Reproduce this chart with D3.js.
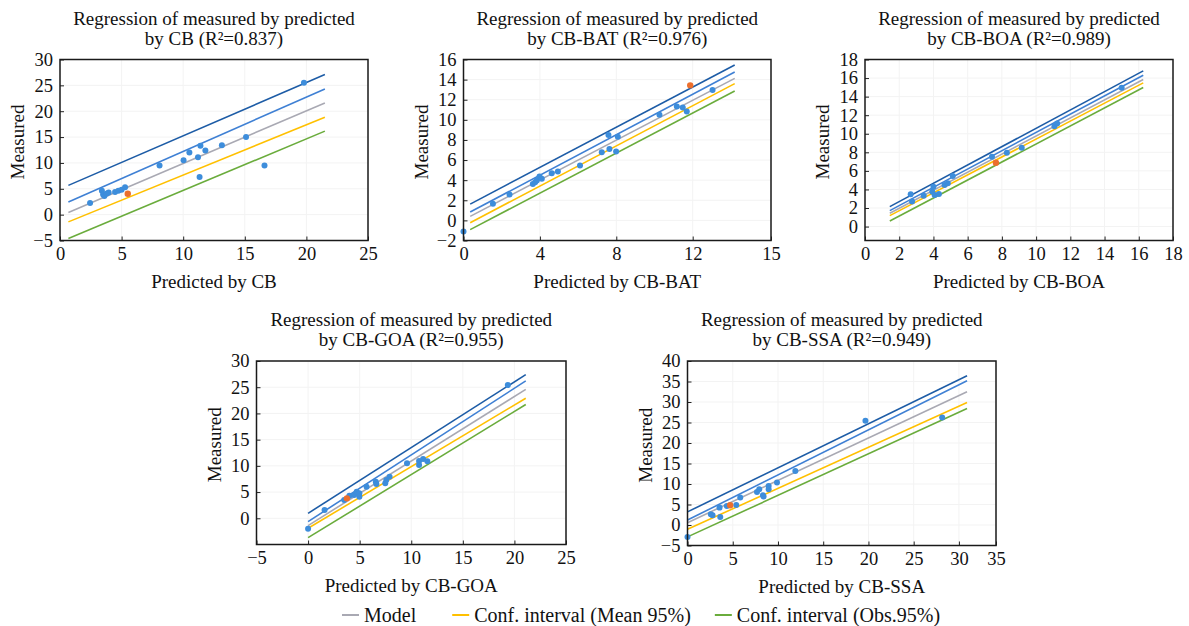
<!DOCTYPE html>
<html>
<head>
<meta charset="utf-8">
<script src="https://cdn.jsdelivr.net/npm/d3@7"></script>
<style>
  body { margin: 0; background: #fff; }
  svg, svg text { font-family: "Liberation Serif", Tinos, "Times New Roman", "DejaVu Serif", serif !important; fill: #111; }
</style>
</head>
<body>
<script>
// model names and fit quality
var modelNames = ["CB", "CB-BAT", "CB-BOA", "CB-GOA", "CB-SSA"];
var rSquared = ["0.837", "0.976", "0.989", "0.955", "0.949"];

// axis domains and ticks (the chart puts its last x label at the frame edge)
var xDomains = [[0, 25], [0, 16.1], [0, 18], [-5, 25], [0, 34.1]];
var yDomains = [[-5, 30], [-2, 16], [-1.5, 18], [-5, 30], [-5, 40]];
var xTickValues = [[0, 5, 10, 15, 20, 25], [0, 4, 8, 12, 16.1], [0, 2, 4, 6, 8, 10, 12, 14, 16, 18], [-5, 0, 5, 10, 15, 20, 25], [0, 5, 10, 15, 20, 25, 30, 34.1]];
var xTickLabels = [["0", "5", "10", "15", "20", "25"], ["0", "4", "8", "12", "15"], ["0", "2", "4", "6", "8", "10", "12", "14", "16", "18"], ["\u22125", "0", "5", "10", "15", "20", "25"], ["0", "5", "10", "15", "20", "25", "30", "35"]];
var yTickValues = [[-5, 0, 5, 10, 15, 20, 25, 30], [-2, 0, 2, 4, 6, 8, 10, 12, 14, 16], [0, 2, 4, 6, 8, 10, 12, 14, 16, 18], [0, 5, 10, 15, 20, 25, 30], [-5, 0, 5, 10, 15, 20, 25, 30, 35, 40]];

// regression lines: x range and [start, end] values of each band
var lineX = [[0.68, 21.5], [0.35, 14.2], [1.45, 16.26], [0, 21.1], [0, 30.9]];
var upperObs = [[5.66, 27.1], [1.62, 15.45], [2.15, 16.77], [0.95, 27.4], [3.2, 36.4]];
var upperMean = [[2.45, 24.3], [0.83, 14.75], [1.72, 16.31], [-0.63, 26.2], [1.2, 35.2]];
var modelLine = [[0.4, 21.6], [0.4, 14.12], [1.43, 15.84], [-1.4, 24.6], [0.57, 32.5]];
var lowerMean = [[-1.4, 18.85], [-0.23, 13.6], [1.18, 15.48], [-1.9, 22.9], [-1.06, 29.9]];
var lowerObs = [[-4.6, 16.15], [-0.92, 12.87], [0.6, 14.98], [-3.7, 21.7], [-2.9, 28.4]];

// observations [predicted, measured]
var cbPoints = [[2.44, 2.25], [3.4, 4.6], [3.5, 3.9], [3.6, 3.6], [3.8, 4.1], [3.95, 4.3], [4.47, 4.4], [4.74, 4.6], [5.0, 4.8], [5.28, 5.3],
  [8.08, 9.5], [10.03, 10.5], [10.5, 12.0], [11.2, 11.1], [11.33, 7.27], [11.4, 13.3], [11.8, 12.4], [13.14, 13.4], [15.1, 15.0], [16.6, 9.5], [19.8, 25.5]];
var batPoints = [[0, -1.1], [1.54, 1.65], [2.41, 2.57], [3.63, 3.63], [3.75, 3.8], [3.84, 3.96], [3.98, 4.36], [4.1, 4.13], [4.62, 4.69], [4.94, 4.85],
  [6.1, 5.45], [7.24, 6.77], [7.59, 8.48], [7.64, 7.1], [7.99, 6.86], [8.08, 8.32], [10.26, 10.5], [11.17, 11.32], [11.48, 11.22], [11.69, 10.82], [13.04, 12.97]];
var boaPoints = [[2.67, 3.48], [2.75, 2.69], [3.43, 3.33], [3.93, 3.76], [4.0, 4.3], [4.07, 3.4], [4.32, 3.5], [4.65, 4.48], [4.84, 4.66], [5.13, 5.45],
  [7.42, 7.53], [8.29, 7.96], [9.16, 8.49], [11.07, 10.82], [11.23, 11.1], [15.0, 14.95]];
var goaPoints = [[0, -2.0], [1.6, 1.6], [3.5, 3.5], [4.0, 4.3], [4.46, 4.44], [4.71, 5.08], [4.97, 4.76], [4.97, 4.13], [5.67, 6.03], [6.56, 6.98],
  [6.62, 6.54], [7.48, 6.67], [7.58, 7.3], [7.9, 7.94], [9.59, 10.48], [10.76, 10.92], [10.76, 10.16], [11.15, 11.3], [11.56, 10.9], [19.36, 25.4]];
var ssaPoints = [[0, -2.9], [2.58, 2.6], [2.77, 2.36], [3.54, 4.24], [3.62, 1.96], [4.35, 4.65], [5.39, 4.89], [5.83, 6.68], [7.68, 8.07], [7.93, 8.72],
  [8.34, 7.25], [8.41, 6.93], [8.97, 8.72], [8.97, 9.54], [9.89, 10.35], [11.92, 13.2], [19.67, 25.43], [28.15, 26.24]];
var pointSets = [cbPoints, batPoints, boaPoints, goaPoints, ssaPoints];
// the one highlighted (orange) observation per panel
var highlighted = [[5.5, 4.05], [11.87, 13.43], [7.65, 6.88], [3.76, 3.8], [4.72, 4.8]];

// legend
var legendLabels = ["Model", "Conf. interval (Mean 95%)", "Conf. interval (Obs.95%)"];

var bandColors = ["#1d5ca6", "#3f80d4", "#a9a9b3", "#ffc000", "#6aac3c"];
var legendColors = ["#a9a9b3", "#ffc000", "#6aac3c"];

var FONT = "'Liberation Serif', Tinos, 'Times New Roman', 'DejaVu Serif', serif";

// plot areas in page pixels
var boxes = [
  {left: 60, right: 368, top: 59.5, bottom: 240.5},
  {left: 463.5, right: 771, top: 59.5, bottom: 240.5},
  {left: 865, right: 1173, top: 59.5, bottom: 240.5},
  {left: 256.5, right: 566, top: 361, bottom: 544.5},
  {left: 687.5, right: 996, top: 361, bottom: 545.5}
];

var svg = d3.select("body").append("svg")
    .attr("width", 1189)
    .attr("height", 626)
    .attr("font-family", FONT);

boxes.forEach(function(b, i) {
  var x = d3.scaleLinear().domain(xDomains[i]).range([b.left, b.right]);
  var y = d3.scaleLinear().domain(yDomains[i]).range([b.bottom, b.top]);
  var g = svg.append("g");

  // faint grid
  g.append("g").selectAll("line")
    .data(yTickValues[i])
    .enter().append("line")
      .attr("x1", b.left).attr("x2", b.right)
      .attr("y1", function(d) { return y(d); })
      .attr("y2", function(d) { return y(d); })
      .attr("stroke", "#f3f3f3");
  g.append("g").selectAll("line")
    .data(xTickValues[i])
    .enter().append("line")
      .attr("y1", b.top).attr("y2", b.bottom)
      .attr("x1", function(d) { return x(d); })
      .attr("x2", function(d) { return x(d); })
      .attr("stroke", "#f3f3f3");

  // regression bands
  var bands = [upperObs[i], upperMean[i], modelLine[i], lowerMean[i], lowerObs[i]];
  var line = d3.line()
      .x(function(d) { return x(d[0]); })
      .y(function(d) { return y(d[1]); });
  bands.forEach(function(band, k) {
    g.append("path")
      .datum([[lineX[i][0], band[0]], [lineX[i][1], band[1]]])
      .attr("fill", "none")
      .attr("stroke", bandColors[k])
      .attr("stroke-width", 1.6)
      .attr("d", line);
  });

  // points
  g.append("g").selectAll("circle")
    .data(pointSets[i])
    .enter().append("circle")
      .attr("cx", function(d) { return x(d[0]); })
      .attr("cy", function(d) { return y(d[1]); })
      .attr("r", 3)
      .attr("fill", "#3d8ddb");
  g.append("circle")
    .attr("cx", x(highlighted[i][0]))
    .attr("cy", y(highlighted[i][1]))
    .attr("r", 3.2)
    .attr("fill", "#ec6f2d");

  // axes
  var xAxis = d3.axisBottom(x)
      .tickValues(xTickValues[i])
      .tickSize(-4)
      .tickPadding(6)
      .tickFormat(function(d, j) { return xTickLabels[i][j]; });
  var gx = g.append("g")
      .attr("transform", "translate(0," + b.bottom + ")")
      .call(xAxis);
  var yAxis = d3.axisLeft(y)
      .tickValues(yTickValues[i])
      .tickSize(-4)
      .tickPadding(7)
      .tickFormat(d3.format("d"));
  var gy = g.append("g")
      .attr("transform", "translate(" + b.left + ",0)")
      .call(yAxis);
  [gx, gy].forEach(function(a) {
    a.attr("font-family", FONT).attr("font-size", 18.5);
    a.select(".domain").remove();
    a.selectAll("line").attr("stroke", "#222");
    a.selectAll("text").attr("fill", "#111");
  });

  // frame
  g.append("rect")
    .attr("x", b.left).attr("y", b.top)
    .attr("width", b.right - b.left)
    .attr("height", b.bottom - b.top)
    .attr("fill", "none")
    .attr("stroke", "#1a1a1a")
    .attr("stroke-width", 1.5);

  // titles
  var cx = (b.left + b.right) / 2;
  var title = g.append("text")
    .attr("text-anchor", "middle")
    .attr("font-size", 19);
  title.append("tspan")
    .attr("x", cx).attr("y", b.top - 35)
    .text("Regression of measured by predicted");
  title.append("tspan")
    .attr("x", cx).attr("y", b.top - 15)
    .text("by " + modelNames[i] + " (R\u00b2=" + rSquared[i] + ")");

  g.append("text")
    .attr("x", cx)
    .attr("y", b.bottom + 47)
    .attr("text-anchor", "middle")
    .attr("font-size", 19)
    .text("Predicted by " + modelNames[i]);

  g.append("text")
    .attr("transform", "translate(" + (b.left - 36) + "," + ((b.top + b.bottom) / 2 - 8) + ") rotate(-90)")
    .attr("text-anchor", "middle")
    .attr("font-size", 19)
    .text("Measured");
});

// legend
var legend = svg.append("g").attr("transform", "translate(342,615)");
var lx = 0;
legendLabels.forEach(function(label, k) {
  legend.append("line")
    .attr("x1", lx).attr("x2", lx + 17)
    .attr("y1", 0).attr("y2", 0)
    .attr("stroke", legendColors[k])
    .attr("stroke-width", 2);
  var t = legend.append("text")
    .attr("x", lx + 22)
    .attr("y", 6.5)
    .attr("font-size", 20)
    .text(label);
  lx += 22 + t.node().getComputedTextLength() + (k === 0 ? 36 : 24);
});
</script>
</body>
</html>
